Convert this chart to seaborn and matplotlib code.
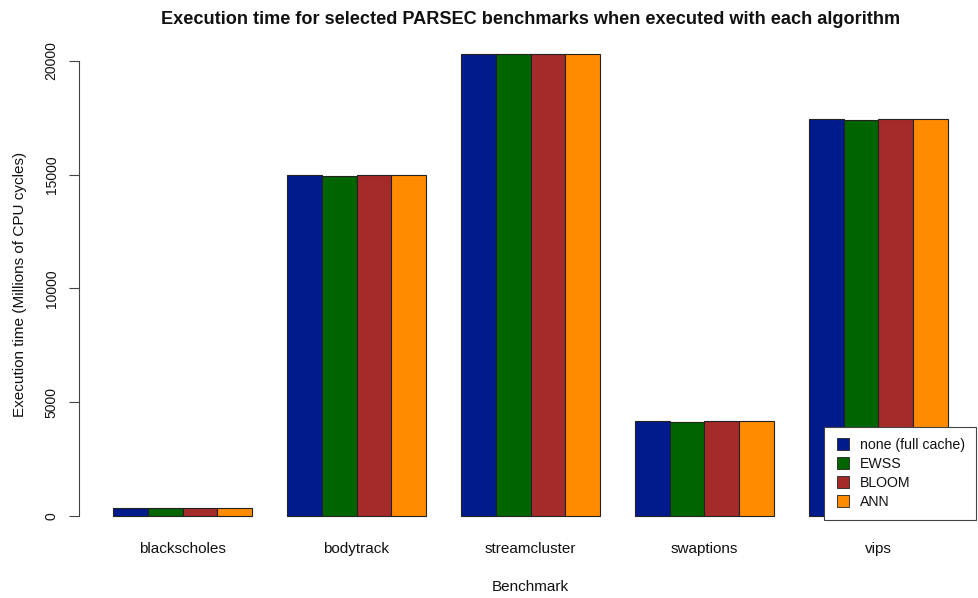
import matplotlib
matplotlib.use("Agg")
import matplotlib.pyplot as plt
from matplotlib.lines import Line2D
import seaborn as sns
import pandas as pd

benchmarks = ["blackscholes", "bodytrack", "streamcluster", "swaptions", "vips"]
algorithms = ["none (full cache)", "EWSS", "BLOOM", "ANN"]
none_full = [345, 14990, 20320, 4165, 17440]
ewss = [340, 14965, 20320, 4120, 17405]
bloom = [345, 14990, 20320, 4165, 17440]
ann = [345, 14990, 20320, 4165, 17440]
colors = ["#021B8C", "#006400", "#A52A2A", "#FF8C00"]

rows = []
for alg, vals in zip(algorithms, [none_full, ewss, bloom, ann]):
    for b, v in zip(benchmarks, vals):
        rows.append({"Benchmark": b, "Algorithm": alg, "Time": v})
df = pd.DataFrame(rows)

sns.set_style("white")
plt.rcParams["font.family"] = ["Liberation Sans", "DejaVu Sans"]
plt.rcParams["text.color"] = "#111111"
plt.rcParams["axes.labelcolor"] = "#111111"
plt.rcParams["xtick.color"] = "#111111"
plt.rcParams["ytick.color"] = "#111111"

W, H = 979, 598
fig = plt.figure(figsize=(W / 100, H / 100), dpi=100)
left, right = 79.5, 981.5
top, bottom = 35.2, 534.5
ax = fig.add_axes([left / W, 1 - bottom / H, (right - left) / W, (bottom - top) / H])

sns.barplot(data=df, x="Benchmark", y="Time", hue="Algorithm", order=benchmarks,
            hue_order=algorithms, palette=colors, width=0.8, gap=0,
            edgecolor="#222222", linewidth=0.8, saturation=1, ax=ax, legend=False)

ax.set_xlim(-0.592, 4.592)
ax.set_ylim(-813, 21133)
for s in ["top", "right", "bottom"]:
    ax.spines[s].set_visible(False)
ax.spines["left"].set_bounds(0, 20000)
ax.spines["left"].set_color("#444444")
ax.spines["left"].set_linewidth(0.8)
ax.set_yticks([0, 5000, 10000, 15000, 20000])
ax.set_yticklabels(["0", "5000", "10000", "15000", "20000"], rotation=90, va="center")
ax.tick_params(axis="y", length=7, width=0.8, color="#444444", labelsize=10, pad=8, left=True)
ax.tick_params(axis="x", length=0, labelsize=11, pad=5.5)
ax.set_xlabel("Benchmark", fontsize=11, labelpad=17)
ax.set_ylabel("Execution time (Millions of CPU cycles)", fontsize=11, labelpad=13)
ax.set_title("Execution time for selected PARSEC benchmarks when executed with each algorithm",
             fontsize=13.1, fontweight="bold", pad=8)

handles = [Line2D([0], [0], marker="s", linestyle="none", markersize=8,
                  markerfacecolor=c, markeredgecolor="#222222", markeredgewidth=0.6)
           for c in colors]
leg = ax.legend(handles, algorithms, loc="lower left", bbox_to_anchor=(0.8254, 0.029),
                borderaxespad=0, frameon=True, fancybox=False, framealpha=1, fontsize=10.2,
                handletextpad=0.6, labelspacing=0.36, borderpad=0.75, handlelength=1.2)
leg.get_frame().set_edgecolor("#444444")
leg.get_frame().set_linewidth(0.8)

fig.savefig("out.png", dpi=100)
